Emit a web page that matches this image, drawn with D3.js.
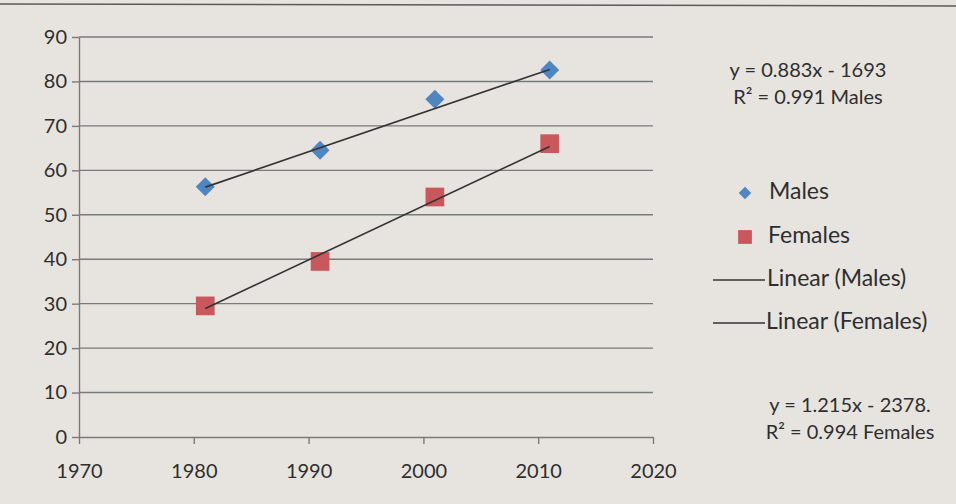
<!DOCTYPE html>
<html>
<head>
<meta charset="utf-8">
<script src="https://cdn.jsdelivr.net/npm/d3@7"></script>
<style>
  html, body { margin: 0; padding: 0; background: #e7e4e0; }
  svg { display: block; }
  text { font-family: Lato, "Open Sans", sans-serif; fill: #2e2e2e; }
</style>
</head>
<body>
<svg id="chart" width="956" height="504"></svg>
<script>
// ---- data ----
const years = [1981, 1991, 2001, 2011];
const males = [56.3, 64.5, 76, 82.6];
const females = [29.5, 39.5, 54, 66];
const xTicks = [1970, 1980, 1990, 2000, 2010, 2020];
const yTicks = [0, 10, 20, 30, 40, 50, 60, 70, 80, 90];
const seriesNames = ["Males", "Females"];
const trendSlopes = [0.883, 1.215];
const trendIntercepts = [-1693, -2378];
const equationLines = [
  ["y = 0.883x - 1693", "R² = 0.991 Males"],
  ["y = 1.215x - 2378.", "R² = 0.994 Females"]
];

const FONT = "Lato, 'Open Sans', sans-serif";
const svg = d3.select("#chart");
svg.append("rect").attr("width", 956).attr("height", 504).attr("fill", "#e7e4e0");
// page edge line at top (photo)
svg.append("line").attr("x1", 0).attr("x2", 956).attr("y1", 4).attr("y2", 6)
  .attr("stroke", "#5a5a5a").attr("stroke-width", 1.5);

const x = d3.scaleLinear().domain([1970, 2020]).range([79, 653]);
const y = d3.scaleLinear().domain([0, 90]).range([437, 37]);

const gridColor = "#7a7a7a";
// gridlines
svg.append("g").selectAll("line").data(yTicks.filter(d => d > 0)).join("line")
  .attr("x1", x(1970)).attr("x2", x(2020))
  .attr("y1", d => y(d)).attr("y2", d => y(d))
  .attr("stroke", gridColor).attr("stroke-width", 1.4);

// y axis
const yAxis = d3.axisLeft(y).tickValues(yTicks).tickSize(7).tickSizeOuter(0).tickPadding(5);
const gy = svg.append("g").attr("transform", `translate(${x(1970)},0)`).call(yAxis);
gy.select(".domain").attr("stroke", gridColor).attr("stroke-width", 1.4);
gy.selectAll(".tick line").attr("stroke", gridColor).attr("stroke-width", 1.4);
gy.selectAll(".tick text").attr("font-size", 20).attr("fill", "#2e2e2e").style("font-family", FONT);

// x axis
const xAxis = d3.axisBottom(x).tickValues(xTicks).tickFormat(d3.format("d"))
  .tickSize(7).tickSizeOuter(0).tickPadding(20);
const gx = svg.append("g").attr("transform", `translate(0,${y(0)})`).call(xAxis);
gx.select(".domain").attr("stroke", gridColor).attr("stroke-width", 1.4);
gx.selectAll(".tick line").attr("stroke", gridColor).attr("stroke-width", 1.4);
gx.selectAll(".tick text").attr("font-size", 20).attr("fill", "#2e2e2e").style("font-family", FONT);

const blue = "#4f86c2", red = "#c9585c";
const diamond = d3.symbol().type(d3.symbolDiamond2).size(230);
const square = d3.symbol().type(d3.symbolSquare).size(350);

svg.append("g").selectAll("path").data(years.map((t, i) => [t, males[i]])).join("path")
  .attr("d", diamond).attr("transform", d => `translate(${x(d[0])},${y(d[1])})`)
  .attr("fill", blue);
svg.append("g").selectAll("path").data(years.map((t, i) => [t, females[i]])).join("path")
  .attr("d", square).attr("transform", d => `translate(${x(d[0])},${y(d[1])})`)
  .attr("fill", red);

// trendlines on top of markers
const lineGen = d3.line().x(d => x(d[0])).y(d => y(d[1]));
[0, 1].forEach(i => {
  const ends = [years[0], years[years.length - 1]].map(t => [t, trendSlopes[i] * t + trendIntercepts[i]]);
  svg.append("path").attr("d", lineGen(ends)).attr("fill", "none")
    .attr("stroke", "#333").attr("stroke-width", 1.6);
});

// equations
const eqPos = [[808, 72], [850, 407]];
equationLines.forEach((lines, i) => {
  lines.forEach((s, j) => {
    svg.append("text").attr("x", eqPos[i][0]).attr("y", eqPos[i][1] + j * 27)
      .attr("text-anchor", "middle").attr("dominant-baseline", "middle")
      .attr("font-size", 20).text(s);
  });
});

// legend
const lg = svg.append("g");
const legendY = [193, 237, 280, 323];
lg.append("path").attr("d", d3.symbol().type(d3.symbolDiamond2).size(100))
  .attr("transform", `translate(745,${legendY[0]})`).attr("fill", blue);
lg.append("path").attr("d", d3.symbol().type(d3.symbolSquare).size(190))
  .attr("transform", `translate(745,${legendY[1]})`).attr("fill", red);
[2, 3].forEach(k => {
  lg.append("line").attr("x1", 713).attr("x2", 765).attr("y1", legendY[k]).attr("y2", legendY[k])
    .attr("stroke", "#333").attr("stroke-width", 1.5);
});
const legendLabels = [seriesNames[0], seriesNames[1], `Linear (${seriesNames[0]})`, `Linear (${seriesNames[1]})`];
const legendX = [769, 768, 767, 766];
legendLabels.forEach((s, k) => {
  lg.append("text").attr("x", legendX[k]).attr("y", legendY[k])
    .attr("dominant-baseline", "middle").attr("font-size", 23).text(s);
});
</script>
</body>
</html>
